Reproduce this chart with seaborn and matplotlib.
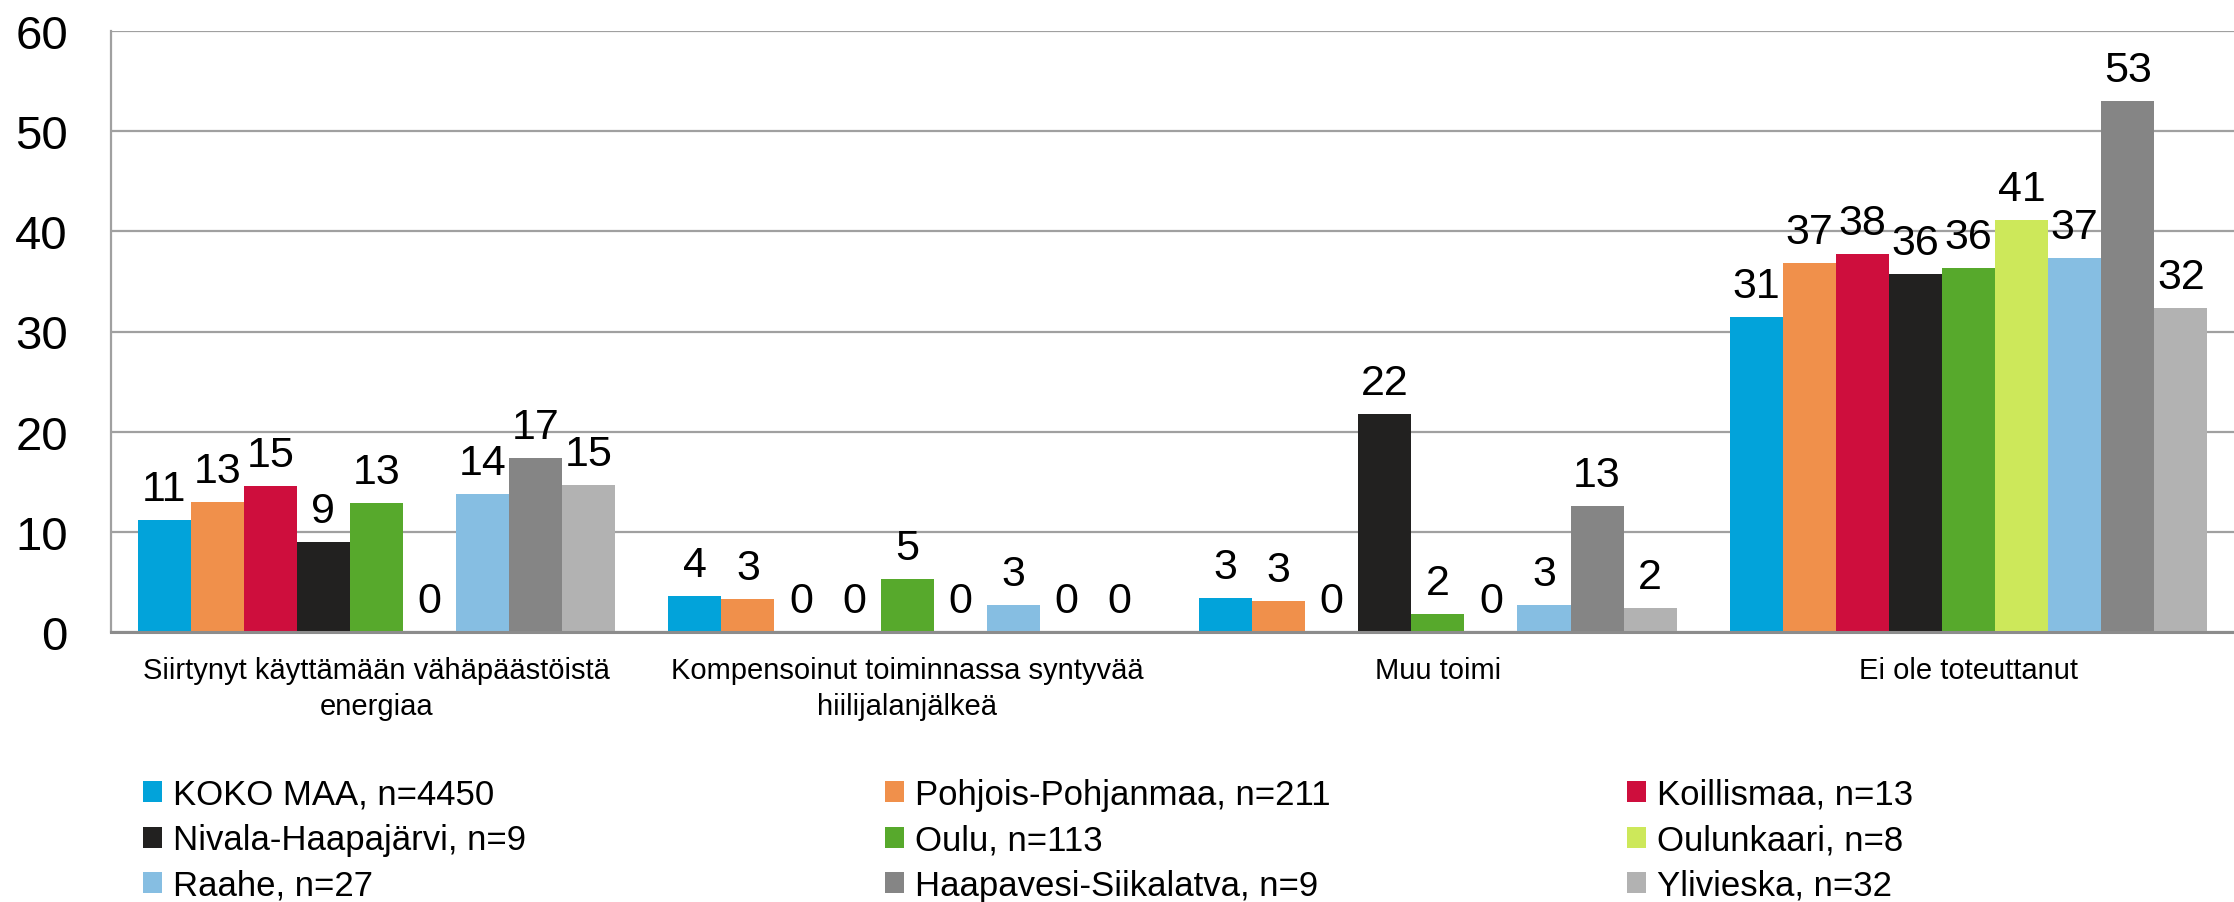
import pandas as pd
import matplotlib
matplotlib.use("Agg")
import matplotlib.pyplot as plt
from matplotlib.patches import Patch
import seaborn as sns

# ---------------------------------------------------------------------------- #
# data (percent)
categories = [
    "Siirtynyt käyttämään vähäpäästöistä\nenergiaa",
    "Kompensoinut toiminnassa syntyvää\nhiilijalanjälkeä",
    "Muu toimi",
    "Ei ole toteuttanut",
]
regions = [
    "KOKO MAA, n=4450",
    "Pohjois-Pohjanmaa, n=211",
    "Koillismaa, n=13",
    "Nivala-Haapajärvi, n=9",
    "Oulu, n=113",
    "Oulunkaari, n=8",
    "Raahe, n=27",
    "Haapavesi-Siikalatva, n=9",
    "Ylivieska, n=32",
]
koko_maa = [11.2, 3.6, 3.4, 31.4]
pohjois_pohjanmaa = [13.0, 3.3, 3.1, 36.8]
koillismaa = [14.6, 0, 0, 37.7]
nivala_haapajarvi = [9.0, 0, 21.8, 35.7]
oulu = [12.9, 5.3, 1.8, 36.3]
oulunkaari = [0, 0, 0, 41.1]
raahe = [13.8, 2.7, 2.7, 37.3]
haapavesi_siikalatva = [17.4, 0, 12.6, 53.0]
ylivieska = [14.7, 0, 2.4, 32.3]

colors = [
    "#02A3DA", "#F0904B", "#CE0E3D", "#222120", "#57A92C",
    "#CDE85A", "#86BEE2", "#858585", "#B2B2B2",
]

series = [koko_maa, pohjois_pohjanmaa, koillismaa, nivala_haapajarvi, oulu,
          oulunkaari, raahe, haapavesi_siikalatva, ylivieska]


def main():
    rows = []
    for reg, vals in zip(regions, series):
        for cat, v in zip(categories, vals):
            rows.append({"category": cat, "region": reg, "value": v})
    df = pd.DataFrame(rows)

    sns.set_theme(style="white")
    plt.rcParams["font.family"] = ["Liberation Sans", "DejaVu Sans"]

    fig = plt.figure(figsize=(22.34, 9.03), dpi=100)
    ax = fig.add_axes([111 / 2234, 1 - 633 / 903, 1 - 111 / 2234, (633 - 32) / 903])

    sns.barplot(
        data=df, x="category", y="value", hue="region",
        order=categories, hue_order=regions, palette=colors,
        width=0.9, saturation=1, linewidth=0, legend=False, ax=ax,
    )

    for cont, vals in zip(ax.containers, series):
        ax.bar_label(cont, labels=[f"{v:.0f}" for v in vals],
                     padding=8, fontsize=31, color="black")

    ax.set_xlim(-0.5, 3.5)
    ax.set_ylim(0, 60)
    ax.set_yticks(range(0, 61, 10))
    ax.set_xlabel("")
    ax.set_ylabel("")
    ax.grid(axis="y", color="#A0A0A0", linewidth=1.6)
    ax.set_axisbelow(True)
    ax.tick_params(axis="y", length=0, pad=31, labelsize=34, labelcolor="black")
    ax.tick_params(axis="x", length=0, pad=17, labelsize=21, labelcolor="black")
    for lab in ax.get_xticklabels():
        lab.set_linespacing(1.36)
    for s in ["top", "right"]:
        ax.spines[s].set_visible(False)
    ax.spines["left"].set_color("#A0A0A0")
    ax.spines["left"].set_linewidth(1.6)
    ax.spines["bottom"].set_color("#8C8C8C")
    ax.spines["bottom"].set_linewidth(2.2)

    # legend: 3 columns, row-major order
    handles = [Patch(facecolor=c, edgecolor="none") for c in colors]
    col_x = [143 / 2234, 885 / 2234, 1627 / 2234]
    for i, x in enumerate(col_x):
        idx = [i, i + 3, i + 6]
        fig.legend(
            [handles[j] for j in idx], [regions[j] for j in idx],
            loc="upper left", bbox_to_anchor=(x, 1 - 779 / 903),
            frameon=False, fontsize=25, borderpad=0, borderaxespad=0,
            handlelength=0.55, handleheight=0.55, handletextpad=0.3,
            labelspacing=0.36, labelcolor="black",
        )

    fig.savefig("out.png", dpi=100)


if __name__ == "__main__":
    main()
